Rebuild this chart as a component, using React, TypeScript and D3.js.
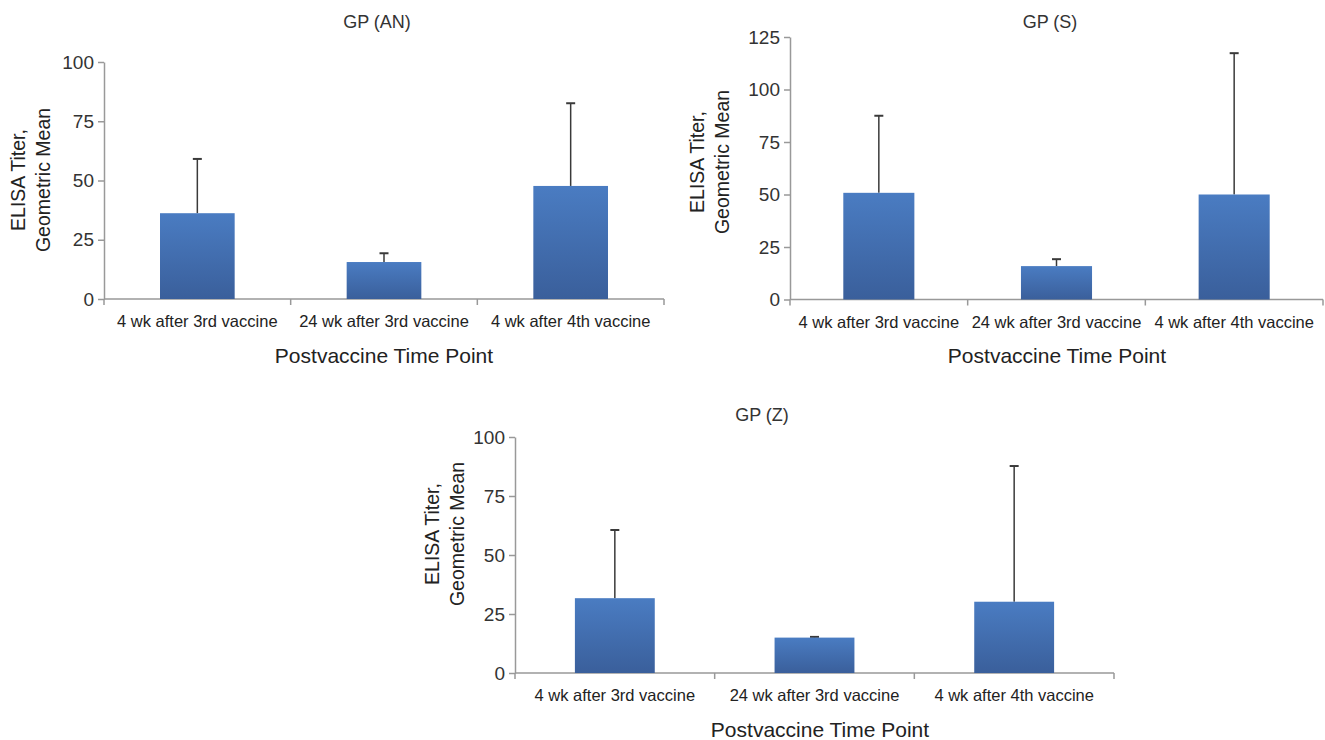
import React, { useEffect, useRef } from "react";
import * as d3 from "d3";

// categories on the x axis (shared by all three panels)
const categories = ["4 wk after 3rd vaccine", "24 wk after 3rd vaccine", "4 wk after 4th vaccine"];

// geometric mean titers
const anMeans = [36.2, 15.6, 47.7];
const anUpper = [59.1, 19.3, 82.6];
const sMeans = [50.8, 15.9, 50.0];
const sUpper = [87.5, 19.2, 117.3];
const zMeans = [31.7, 15.0, 30.2];
const zUpper = [60.6, 15.3, 87.7];

const anTicks = [0, 25, 50, 75, 100];
const sTicks = [0, 25, 50, 75, 100, 125];
const zTicks = [0, 25, 50, 75, 100];

const FONT = "'Liberation Sans', Arial, Helvetica, sans-serif";

const panels = [
  { id: "an", title: "GP (AN)", means: anMeans, upper: anUpper, ticks: anTicks,
    x0: 104, x1: 664, y0: 62, y1: 299, titleX: 377, titleY: 28, yTitleX: 18, yTitleY: 180, xTitleX: 384, xTitleY: 363 },
  { id: "s", title: "GP (S)", means: sMeans, upper: sUpper, ticks: sTicks,
    x0: 790, x1: 1323, y0: 37, y1: 299.5, titleX: 1050, titleY: 28, yTitleX: 697, yTitleY: 162, xTitleX: 1057, xTitleY: 363 },
  { id: "z", title: "GP (Z)", means: zMeans, upper: zUpper, ticks: zTicks,
    x0: 515, x1: 1114, y0: 437, y1: 673, titleX: 762, titleY: 421, yTitleX: 432, yTitleY: 534, xTitleX: 820, xTitleY: 737 },
];

export default function App() {
  const ref = useRef<SVGSVGElement>(null);

  useEffect(() => {
    const svg = d3.select(ref.current);
    svg.selectAll("*").remove();

    const defs = svg.append("defs");
    const grad = defs.append("linearGradient").attr("id", "barGrad")
      .attr("x1", 0).attr("y1", 0).attr("x2", 0).attr("y2", 1);
    grad.append("stop").attr("offset", "0%").attr("stop-color", "#4a7cc2");
    grad.append("stop").attr("offset", "100%").attr("stop-color", "#3a5f9b");

    panels.forEach((p) => {
      const g = svg.append("g").attr("class", "panel-" + p.id);
      const x = d3.scaleBand().domain(categories).range([p.x0, p.x1]);
      const yMax = p.ticks[p.ticks.length - 1];
      const y = d3.scaleLinear().domain([0, yMax]).range([p.y1, p.y0]);
      const barW = x.bandwidth() * 0.4;

      // y axis
      const yAxis = g.append("g").attr("transform", "translate(" + p.x0 + ",0)")
        .call(d3.axisLeft(y).tickValues(p.ticks).tickSize(6).tickSizeOuter(0).tickPadding(4));
      yAxis.select(".domain").attr("stroke", "#999").attr("stroke-width", 1.5);
      yAxis.selectAll(".tick line").attr("stroke", "#999").attr("stroke-width", 1.5);
      yAxis.selectAll(".tick text").attr("font-family", FONT).attr("font-size", 19).attr("fill", "#333");

      // x axis with ticks at band edges
      g.append("line").attr("x1", p.x0).attr("x2", p.x1).attr("y1", p.y1).attr("y2", p.y1)
        .attr("stroke", "#999").attr("stroke-width", 1.5);
      const edges = categories.map((c) => x(c) as number).concat([p.x1]);
      g.selectAll(".xtick").data(edges).enter().append("line")
        .attr("x1", (d) => d).attr("x2", (d) => d)
        .attr("y1", p.y1).attr("y2", p.y1 + 6)
        .attr("stroke", "#999").attr("stroke-width", 1.5);
      g.selectAll(".xlabel").data(categories).enter().append("text")
        .attr("x", (d) => (x(d) as number) + x.bandwidth() / 2)
        .attr("y", p.y1 + 28)
        .attr("text-anchor", "middle")
        .attr("font-family", FONT).attr("font-size", 16.5).attr("fill", "#222")
        .text((d) => d);

      // error bars (upper only)
      g.selectAll(".err").data(categories).enter().append("line")
        .attr("x1", (d) => (x(d) as number) + x.bandwidth() / 2)
        .attr("x2", (d) => (x(d) as number) + x.bandwidth() / 2)
        .attr("y1", (d, i) => y(p.means[i]))
        .attr("y2", (d, i) => y(p.upper[i]))
        .attr("stroke", "#3a3a3a").attr("stroke-width", 1.5);
      g.selectAll(".cap").data(categories).enter().append("line")
        .attr("x1", (d) => (x(d) as number) + x.bandwidth() / 2 - 4.5)
        .attr("x2", (d) => (x(d) as number) + x.bandwidth() / 2 + 4.5)
        .attr("y1", (d, i) => y(p.upper[i]))
        .attr("y2", (d, i) => y(p.upper[i]))
        .attr("stroke", "#3a3a3a").attr("stroke-width", 2);

      // bars
      g.selectAll(".bar").data(categories).enter().append("rect")
        .attr("x", (d) => (x(d) as number) + (x.bandwidth() - barW) / 2)
        .attr("width", barW)
        .attr("y", (d, i) => y(p.means[i]))
        .attr("height", (d, i) => p.y1 - y(p.means[i]))
        .attr("fill", "url(#barGrad)");

      // titles
      g.append("text").attr("x", p.titleX).attr("y", p.titleY)
        .attr("text-anchor", "middle").attr("font-family", FONT).attr("font-size", 18).attr("fill", "#333")
        .text(p.title);
      g.append("text").attr("x", p.xTitleX).attr("y", p.xTitleY)
        .attr("text-anchor", "middle").attr("font-family", FONT).attr("font-size", 21).attr("fill", "#222")
        .text("Postvaccine Time Point");
      const yt = g.append("text")
        .attr("transform", "translate(" + p.yTitleX + "," + p.yTitleY + ") rotate(-90)")
        .attr("text-anchor", "middle").attr("dominant-baseline", "central")
        .attr("font-family", FONT).attr("font-size", 19.5).attr("fill", "#222");
      yt.append("tspan").attr("x", 0).attr("y", 0).text("ELISA Titer,");
      yt.append("tspan").attr("x", 0).attr("y", 25).text("Geometric Mean");
    });
  }, []);

  return (
    <svg ref={ref} width={1325} height={740}
      style={{ position: "absolute", left: 0, top: 0, background: "#fff" }} />
  );
}
